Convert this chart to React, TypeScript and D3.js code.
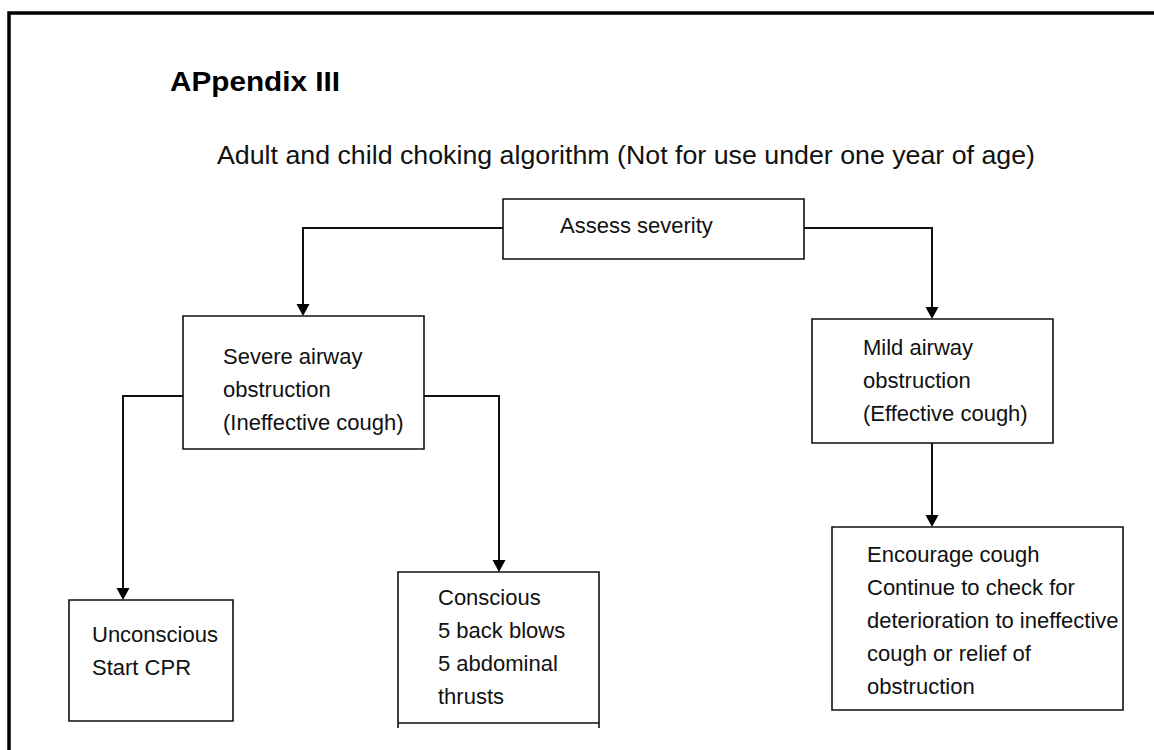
import { useEffect, useRef } from 'react';
import * as d3 from 'd3';

// texts
const TITLE = 'APpendix III';
const SUBTITLE = 'Adult and child choking algorithm (Not for use under one year of age)';

// nodes of the algorithm
const nodeIds = ['assess', 'severe', 'mild', 'unconscious', 'conscious', 'encourage'];
const nodeLines = [
  ['Assess severity'],
  ['Severe airway', 'obstruction', '(Ineffective cough)'],
  ['Mild airway', 'obstruction', '(Effective cough)'],
  ['Unconscious', 'Start CPR'],
  ['Conscious', '5 back blows', '5 abdominal', 'thrusts'],
  ['Encourage cough', 'Continue to check for', 'deterioration to ineffective', 'cough or relief of', 'obstruction'],
];

// links (parent -> child)
const edgeFrom = ['assess', 'assess', 'severe', 'severe', 'mild'];
const edgeTo = ['severe', 'mild', 'unconscious', 'conscious', 'encourage'];

// page layout (pixels)
const W = 1154;
const H = 750;
const FONT = '"Liberation Sans", Arial, sans-serif';
const LINE_H = 33;

const layout = {
  assess:      { x: 503, y: 199, w: 301, h: 60,  tx: 560, ty: 34 },
  severe:      { x: 183, y: 316, w: 241, h: 133, tx: 223, ty: 48 },
  mild:        { x: 812, y: 319, w: 241, h: 124, tx: 863, ty: 36 },
  unconscious: { x: 69,  y: 600, w: 164, h: 121, tx: 92,  ty: 42 },
  conscious:   { x: 398, y: 572, w: 201, h: 151, tx: 438, ty: 33, open: 5 },
  encourage:   { x: 832, y: 527, w: 291, h: 183, tx: 867, ty: 35 },
};

// where each link leaves the parent and where it drops down
const linkLayout = [
  { side: 'left',   dy: 29,  dropX: 303 },
  { side: 'right',  dy: 29,  dropX: 932 },
  { side: 'left',   dy: 80,  dropX: 123 },
  { side: 'right',  dy: 80,  dropX: 499 },
  { side: 'bottom', dy: 0,   dropX: 932 },
];

export default function App() {
  const svgRef = useRef(null);

  useEffect(() => {
    const svg = d3.select(svgRef.current);
    svg.selectAll('*').remove();
    svg.attr('width', W).attr('height', H);

    svg.append('rect').attr('width', W).attr('height', H).attr('fill', '#fff');

    // outer frame (only top and left show)
    svg.append('path')
      .attr('d', d3.line()([[9, H + 10], [9, 13], [W + 10, 13]]))
      .attr('fill', 'none')
      .attr('stroke', '#000')
      .attr('stroke-width', 3.5);

    svg.append('text')
      .attr('x', 170).attr('y', 91)
      .attr('font-family', FONT)
      .attr('font-weight', 'bold')
      .attr('font-size', 28.5)
      .attr('textLength', 170)
      .attr('lengthAdjust', 'spacingAndGlyphs')
      .attr('fill', '#000')
      .text(TITLE);

    svg.append('text')
      .attr('x', 217).attr('y', 164)
      .attr('font-family', FONT)
      .attr('font-size', 25)
      .attr('textLength', 818)
      .attr('lengthAdjust', 'spacingAndGlyphs')
      .attr('fill', '#111')
      .text(SUBTITLE);

    const nodes = nodeIds.map((id, i) => ({ id, lines: nodeLines[i], ...layout[id] }));
    const byId = new Map(nodes.map((n) => [n.id, n]));

    // connectors
    const links = edgeFrom.map((f, i) => ({ from: byId.get(f), to: byId.get(edgeTo[i]), ...linkLayout[i] }));
    const ARROW_L = 12;
    const ARROW_W = 6.5;
    links.forEach((l) => {
      const p = l.from;
      const tipY = l.to.y;
      let pts;
      if (l.side === 'bottom') {
        pts = [[l.dropX, p.y + p.h], [l.dropX, tipY - ARROW_L]];
      } else {
        const sx = l.side === 'left' ? p.x : p.x + p.w;
        const sy = p.y + l.dy;
        pts = [[sx, sy], [l.dropX, sy], [l.dropX, tipY - ARROW_L]];
      }
      svg.append('path')
        .attr('d', d3.line()(pts))
        .attr('fill', 'none')
        .attr('stroke', '#111')
        .attr('stroke-width', 2);
      svg.append('path')
        .attr('d', d3.line()([[l.dropX - ARROW_W, tipY - ARROW_L], [l.dropX + ARROW_W, tipY - ARROW_L], [l.dropX, tipY]]) + 'Z')
        .attr('fill', '#000');
    });

    // boxes
    const g = svg.selectAll('g.node').data(nodes).join('g').attr('class', 'node');
    g.append('path')
      .attr('d', (d) => {
        const ext = d.open || 0;
        const x0 = d.x, x1 = d.x + d.w, y0 = d.y, y1 = d.y + d.h;
        if (!ext) return `M${x0},${y0}H${x1}V${y1}H${x0}Z`;
        return `M${x0},${y1 + ext}V${y0}H${x1}V${y1 + ext}M${x0},${y1}H${x1}`;
      })
      .attr('fill', 'none')
      .attr('stroke', '#111')
      .attr('stroke-width', 1.6);

    g.each(function (d) {
      const t = d3.select(this).append('text')
        .attr('font-family', FONT)
        .attr('font-size', 22)
        .attr('fill', '#111');
      d.lines.forEach((line, i) => {
        t.append('tspan')
          .attr('x', d.tx)
          .attr('y', d.y + d.ty + i * LINE_H)
          .text(line);
      });
    });
  }, []);

  return (
    <svg ref={svgRef} style={{ position: 'absolute', left: 0, top: 0, display: 'block' }} />
  );
}
